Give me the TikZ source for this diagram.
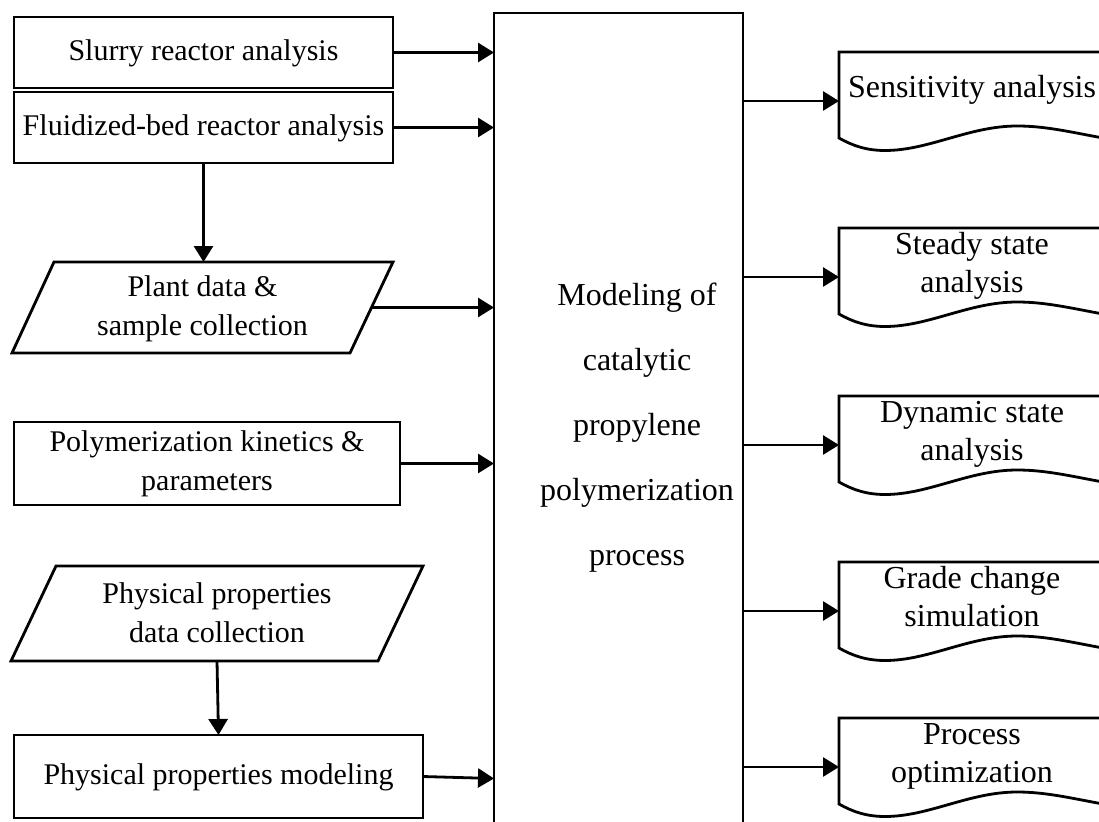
\documentclass[tikz,border=0pt]{standalone}
\usepackage{fontspec}
\setmainfont{Liberation Serif}
\usetikzlibrary{arrows.meta,calc}
\newcommand\leftfnt{\fontsize{30}{39}\selectfont}
\newcommand\rightfnt{\fontsize{32}{38}\selectfont}
\newcommand\mainfnt{\fontsize{32}{65}\selectfont}
\begin{document}
\begin{tikzpicture}[x=1pt,y=-1pt,line width=2.8pt,
  box/.style={draw,rectangle,inner sep=0pt,outer sep=0pt,font=\leftfnt,align=center},
  ltxt/.style={inner sep=0pt,outer sep=0pt,font=\leftfnt,align=center},
  dtxt/.style={inner sep=0pt,outer sep=0pt,font=\rightfnt,align=center},
  arr/.style={-{Triangle[length=16pt,width=19pt]}}]
\useasboundingbox (0,0) rectangle (1099,821);
\clip (0,0) rectangle (1099,821);
% left column
\node[box,minimum width=379pt,minimum height=71pt] (slurry) at (203.5,52.5) {Slurry reactor analysis\strut};
\node[box,minimum width=379pt,minimum height=71pt] (fluid) at (203.5,127.5) {Fluidized-bed reactor analysis\strut};
\draw (54,262) -- (393,262) -- (350,353) -- (12,353) -- cycle;
\node[ltxt] (plant) at (202.5,307.7) {Plant data \&\strut\\sample collection\strut};
\coordinate (plantN) at (203.5,262);
\coordinate (plantE) at (371.5,307.5);
\node[box,minimum width=386pt,minimum height=83pt] (poly) at (207,463.5) {Polymerization kinetics \&\strut\\parameters\strut};
\draw (56,566) -- (423,566) -- (378,661) -- (11,661) -- cycle;
\node[ltxt] (ppdata) at (217,614.7) {Physical properties\strut\\data collection\strut};
\coordinate (ppdS) at (217,661);
\node[box,minimum width=409pt,minimum height=83pt] (ppmod) at (218.5,776.5) {Physical properties modeling\strut};
% main block
\node[draw,rectangle,inner sep=0pt,outer sep=0pt,minimum width=249pt,minimum height=840pt,anchor=north] (main) at (618.5,13) {};
\node[inner sep=0pt,outer sep=0pt,font=\mainfnt,align=center] (mainT) at (637,422)
  {Modeling of\strut\\catalytic\strut\\propylene\strut\\polymerization\strut\\process\strut};
% left connectors
\draw[arr] (slurry.east) -- (slurry.east -| main.west);
\draw[arr] (fluid.east) -- (fluid.east -| main.west);
\draw[arr] (fluid.south) -- (plantN);
\draw[arr] (plantE) -- (plantE -| main.west);
\draw[arr] (poly.east) -- (poly.east -| main.west);
\draw[arr] (ppdS) -- (ppmod.north);
\draw[arr] (ppmod.east) -- ($(ppmod.east -| main.west)+(0,2)$);
% right documents
\foreach \t/\n/\txt in {52/sens/{Sensitivity analysis\strut},
                        228/steady/{Steady state\strut\\analysis\strut},
                        396/dyn/{Dynamic state\strut\\analysis\strut},
                        562/grade/{Grade change\strut\\simulation\strut},
                        718/opt/{Process\strut\\optimization\strut}}{
  \begin{scope}[shift={(839,\t)}]
    \draw (300,0) -- (0,0) -- (0,86) .. controls (14,94) and (28,98.5) .. (46,98.5)
      .. controls (90,98.5) and (130,74) .. (178,74)
      .. controls (215,74) and (245,84) .. (300,92) -- cycle;
    \node[dtxt] (\n T) at (133,38) {\txt};
    \coordinate (\n L) at (0,49);
  \end{scope}
  \draw[arr] (main.east |- \n L) -- (\n L);
}
\end{tikzpicture}
\end{document}
